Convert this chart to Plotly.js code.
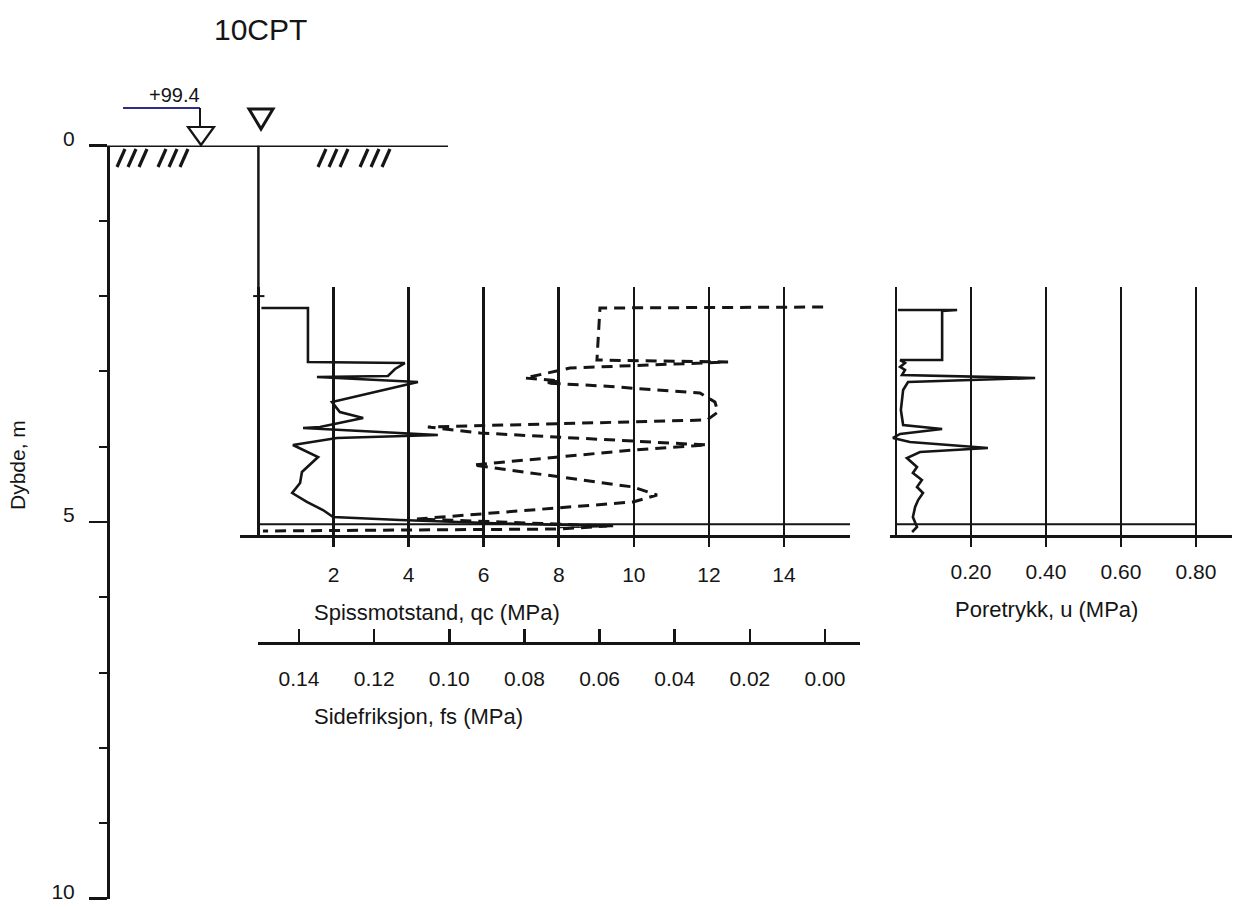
<!DOCTYPE html>
<html><head><meta charset="utf-8">
<script src="https://cdn.plot.ly/plotly-3.0.1.min.js"></script>
<style>html,body{margin:0;padding:0;background:#fff}</style>
</head><body><div id="chart" style="width:1235px;height:907px"></div>
<script>
// ---------- data ----------
const chartTitle = '10CPT';
const waterLevelLabel = '+99.4';
const depthTicks = [0, 5, 10];
const qcTicks = [2, 4, 6, 8, 10, 12, 14];
const fsTicks = [0, 0.02, 0.04, 0.06, 0.08, 0.10, 0.12, 0.14];
const uTicks = [0.2, 0.4, 0.6, 0.8];
const endDepth = 5.03;
const rodMarkDepth = 2.0;

const qcDepth  = [2.158, 2.158, 2.875, 2.889, 2.968, 3.061, 3.074, 3.141, 3.406, 3.539, 3.619, 3.739, 3.752, 3.845, 3.884, 3.977, 4.137, 4.336, 4.482, 4.615, 4.734, 4.841, 4.934, 4.973, 5.027, 5.053, 5.066];
const qcValues = [0.08, 1.32, 1.32, 3.90, 3.64, 3.45, 1.56, 4.25, 1.96, 2.17, 2.79, 1.64, 1.19, 4.78, 2.09, 0.92, 1.59, 1.16, 1.11, 0.90, 1.29, 1.72, 1.99, 3.77, 6.97, 9.45, 8.03];

const fsDepth  = [2.145, 2.158, 2.849, 2.875, 2.955, 3.048, 3.088, 3.127, 3.154, 3.194, 3.287, 3.406, 3.539, 3.645, 3.738, 3.818, 3.977, 4.044, 4.243, 4.535, 4.641, 4.734, 4.960, 5.000, 5.053, 5.093, 5.119];
const fsValues = [0.0005, 0.0599, 0.0607, 0.0258, 0.0679, 0.0759, 0.0799, 0.0705, 0.0745, 0.0591, 0.0333, 0.0293, 0.0285, 0.0314, 0.1057, 0.0918, 0.0314, 0.0511, 0.0937, 0.0511, 0.0447, 0.0511, 0.1086, 0.0865, 0.0580, 0.0705, 0.1496];

const uDepth  = [2.185, 2.185, 2.197, 2.849, 2.849, 2.888, 2.94, 2.98, 3.048, 3.088, 3.141, 3.247, 3.512, 3.712, 3.765, 3.831, 3.884, 3.938, 4.017, 4.07, 4.15, 4.216, 4.27, 4.349, 4.442, 4.535, 4.615, 4.708, 4.801, 4.934, 5.066, 5.133];
const uValues = [0.005, 0.163, 0.123, 0.123, 0.011, 0.024, 0.011, 0.024, 0.016, 0.371, 0.032, 0.019, 0.013, 0.019, 0.123, 0.011, -0.008, 0.037, 0.245, 0.064, 0.029, 0.045, 0.056, 0.045, 0.069, 0.056, 0.072, 0.059, 0.051, 0.045, 0.056, 0.043];

// ---------- layout geometry (pixels) ----------
const W = 1235, H = 907;
const INK = '#151515';
const FONT = 'Liberation Sans, Arial, sans-serif';
const px = v => v / W;
const py = v => 1 - v / H;
const depth0Px = 145.5, pxPerM = 75.3;
const depthAt = p => (p - depth0Px) / pxPerM;
const panelTopPx = 287, panelBotPx = 535;
const qc0Px = 258.4, qcPxPer = 37.54;
const qcAt = p => (p - qc0Px) / qcPxPer;
const fs0Px = 825, fsPxPer = 3757;
const fsAt = p => (fs0Px - p) / fsPxPer;
const u0Px = 896, uPxPer = 375;
const uAt = p => (p - u0Px) / uPxPer;

const qcRange = [qcAt(240), qcAt(850)];

const tickFont = {family: FONT, size: 21, color: INK};

const traces = [
  {x: [0, 0], y: [0, endDepth], xaxis: 'x4', yaxis: 'y', mode: 'lines',
   line: {color: INK, width: 2.5}, hoverinfo: 'skip', showlegend: false},
  {x: qcValues, y: qcDepth, xaxis: 'x', yaxis: 'y2', mode: 'lines',
   line: {color: INK, width: 2.6}, showlegend: false},
  {x: fsValues, y: fsDepth, xaxis: 'x2', yaxis: 'y2', mode: 'lines',
   line: {color: INK, width: 3, dash: '11px,7px'}, showlegend: false},
  {x: uValues, y: uDepth, xaxis: 'x3', yaxis: 'y2', mode: 'lines',
   line: {color: INK, width: 2.6}, showlegend: false}
];

// hatch marks and symbols (decoration)
const shapes = [];
function seg(x0, y0, x1, y1, w, c) {
  shapes.push({type: 'line', xref: 'paper', yref: 'paper', x0: px(x0), y0: py(y0), x1: px(x1), y1: py(y1),
    line: {color: c || INK, width: w || 2.5}});
}
[117, 128, 139, 158, 169, 180, 318, 329, 340, 360, 371, 382].forEach(b => seg(b, 167, b + 8, 149, 3.2));
// ground surface
shapes.push({type: 'line', xref: 'paper', yref: 'y', x0: px(90), x1: px(448), y0: 0, y1: 0, line: {color: INK, width: 3}});
// water level marker with elevation
seg(123, 108, 200, 108, 2, '#2e2e8a');
seg(200, 108, 200, 127, 2);
shapes.push({type: 'path', xref: 'paper', yref: 'paper',
  path: `M ${px(188)},${py(127)} L ${px(214)},${py(127)} L ${px(201)},${py(145)} Z`, line: {color: INK, width: 2.2}});
shapes.push({type: 'path', xref: 'paper', yref: 'paper',
  path: `M ${px(249)},${py(109)} L ${px(273)},${py(109)} L ${px(261)},${py(129)} Z`, line: {color: INK, width: 3}});
// end of sounding lines
shapes.push({type: 'line', xref: 'x', yref: 'y2', x0: 0, x1: qcRange[1], y0: endDepth, y1: endDepth, line: {color: INK, width: 1.8}});
shapes.push({type: 'line', xref: 'x3', yref: 'y2', x0: 0, x1: uTicks[uTicks.length - 1], y0: endDepth, y1: endDepth, line: {color: INK, width: 1.8}});
// rod mark
shapes.push({type: 'line', xref: 'x4', yref: 'y', x0: -0.14, x1: 0.16, y0: rodMarkDepth, y1: rodMarkDepth, line: {color: INK, width: 2}});

function ann(text, x, y, size, extra) {
  return Object.assign({text: text, xref: 'paper', yref: 'paper', x: px(x), y: py(y), xanchor: 'center', yanchor: 'middle',
    showarrow: false, font: {family: FONT, size: size, color: INK}}, extra || {});
}
const annotations = [
  ann(chartTitle, 260, 29, 30),
  ann(waterLevelLabel, 174, 95, 20),
  ann('Spissmotstand, qc (MPa)', 437, 612, 22),
  ann('Sidefriksjon, fs (MPa)', 418, 716, 22),
  ann('Poretrykk, u (MPa)', 1046, 609, 22),
  ann('Dybde, m', 18, 465, 21, {textangle: -90})
];

const panelDomain = [py(panelBotPx), py(panelTopPx)];
const layout = {
  width: W, height: H,
  margin: {l: 0, r: 0, t: 0, b: 0, pad: 0},
  paper_bgcolor: '#ffffff', plot_bgcolor: 'rgba(0,0,0,0)',
  showlegend: false,
  font: {family: FONT, color: INK},
  yaxis: {
    domain: [py(depth0Px + 10 * pxPerM), py(depth0Px)], range: [10, 0],
    anchor: 'free', position: px(108),
    showline: true, linecolor: INK, linewidth: 2.5,
    tickmode: 'array', tickvals: depthTicks, ticks: 'outside', ticklen: 18, tickwidth: 2.5, tickcolor: INK,
    minor: {tickmode: 'linear', tick0: 0, dtick: 1, ticks: 'outside', ticklen: 8, tickwidth: 2, tickcolor: INK, showgrid: false},
    showgrid: false, zeroline: false, tickfont: tickFont, ticklabelshift: 7, ticklabelstandoff: 10
  },
  yaxis2: {domain: panelDomain, range: [depthAt(panelBotPx), depthAt(panelTopPx)], anchor: 'x', visible: false,
    showgrid: false, zeroline: false},
  xaxis: {
    domain: [px(240), px(850)], range: qcRange, anchor: 'y2',
    tickmode: 'array', tickvals: qcTicks, ticks: 'outside', ticklen: 9, tickwidth: 2.5, tickcolor: INK,
    showline: true, linecolor: INK, linewidth: 2.5,
    showgrid: true, gridcolor: INK, gridwidth: 2.5,
    zeroline: true, zerolinecolor: INK, zerolinewidth: 2.5,
    tickfont: tickFont, ticklabelstandoff: 10
  },
  xaxis2: {
    domain: [px(258), px(860)], range: [fsAt(258), fsAt(860)], anchor: 'free', position: py(643),
    tickmode: 'array', tickvals: fsTicks, tickformat: '.2f', ticks: 'inside', ticklen: 13, tickwidth: 2.5, tickcolor: INK,
    showline: true, linecolor: INK, linewidth: 2.5, showgrid: false, zeroline: false,
    tickfont: tickFont, ticklabelstandoff: 16
  },
  xaxis3: {
    domain: [px(890), px(1232)], range: [uAt(890), uAt(1232)], anchor: 'y2',
    tickmode: 'array', tickvals: uTicks, tickformat: '.2f', ticks: 'outside', ticklen: 9, tickwidth: 2.5, tickcolor: INK,
    showline: true, linecolor: INK, linewidth: 2.5,
    showgrid: true, gridcolor: INK, gridwidth: 2.5,
    zeroline: true, zerolinecolor: INK, zerolinewidth: 2.5,
    tickfont: tickFont, ticklabelstandoff: 7
  },
  xaxis4: {domain: [px(240), px(850)], range: qcRange, anchor: 'y', visible: false, showgrid: false, zeroline: false},
  shapes: shapes,
  annotations: annotations
};

Plotly.newPlot('chart', traces, layout, {displayModeBar: false, staticPlot: true});
</script>
</body></html>
